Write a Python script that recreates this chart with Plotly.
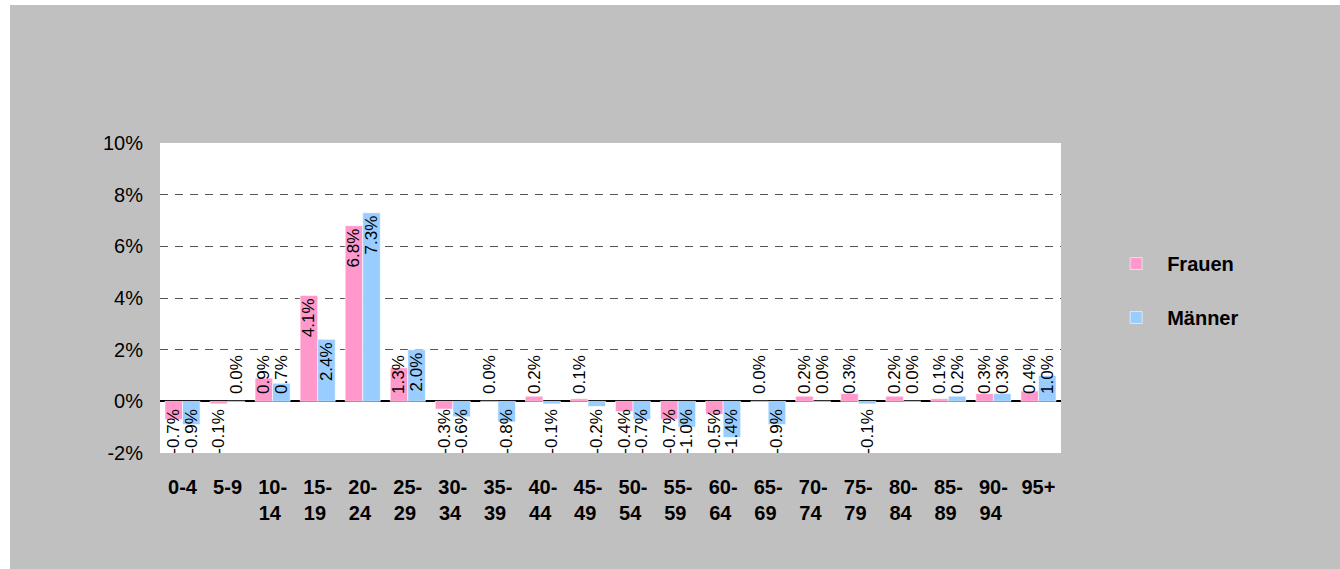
import plotly.graph_objects as go

# ---------------- data ----------------
age_groups = ["0-4", "5-9", "10-14", "15-19", "20-24", "25-29", "30-34", "35-39",
              "40-44", "45-49", "50-54", "55-59", "60-64", "65-69", "70-74", "75-79",
              "80-84", "85-89", "90-94", "95+"]
tick_labels = ["0-4", "5-9", "10-<br>14\u00a0", "15-<br>19\u00a0", "20-<br>24\u00a0",
               "25-<br>29\u00a0", "30-<br>34\u00a0", "35-<br>39\u00a0", "40-<br>44\u00a0",
               "45-<br>49\u00a0", "50-<br>54\u00a0", "55-<br>59\u00a0", "60-<br>64\u00a0",
               "65-<br>69\u00a0", "70-<br>74\u00a0", "75-<br>79\u00a0", "80-<br>84\u00a0",
               "85-<br>89\u00a0", "90-<br>94\u00a0", "95+"]
frauen = [-0.7, -0.1, 0.9, 4.1, 6.8, 1.3, -0.3, 0.0, 0.2, 0.1,
          -0.4, -0.7, -0.5, 0.0, 0.2, 0.3, 0.2, 0.1, 0.3, 0.4]
maenner = [-0.9, 0.0, 0.7, 2.4, 7.3, 2.0, -0.6, -0.8, -0.1, -0.2,
           -0.7, -1.0, -1.4, -0.9, 0.0, -0.1, 0.0, 0.2, 0.3, 1.0]
series_names = ["Frauen", "Männer"]
y_ticks = [-2, 0, 2, 4, 6, 8, 10]
y_tick_labels = ["-2%", "0%", "2%", "4%", "6%", "8%", "10%"]

# ---------------- style ----------------
PINK = "#FF99CC"
BLUE = "#99CCFF"
FONT = "Liberation Sans, Arial, sans-serif"
BAR_W = 0.39
LABEL_SIZE = 17
# positive labels: inside end of the bar, but never closer to the base than this
LABEL_MIN_POS = 1.9
# negative labels: hang just below the zero line
NEG_LABEL_SHIFT = 0.19
NEG_LABEL_LEN = 1.7

fig = go.Figure()

for name, vals, color, off, grp in [
    (series_names[0], frauen, PINK, -BAR_W, "f"),
    (series_names[1], maenner, BLUE, 0.0, "m"),
]:
    fig.add_trace(go.Bar(
        x=age_groups, y=vals, name=name, legendgroup=grp,
        marker=dict(color=color, line=dict(color="white", width=0.6)),
        width=BAR_W, offset=off,
        hovertemplate="%{x}: %{y:.1f}%<extra>" + name + "</extra>",
    ))
    pos = [(g, v) for g, v in zip(age_groups, vals) if v >= 0]
    neg = [(g, v) for g, v in zip(age_groups, vals) if v < 0]
    # labels for non-negative values
    fig.add_trace(go.Bar(
        x=[g for g, _ in pos], y=[max(v, LABEL_MIN_POS) for _, v in pos],
        showlegend=False, hoverinfo="skip",
        marker=dict(color="rgba(0,0,0,0)", line=dict(width=0)),
        width=BAR_W, offset=off,
        text=[f"{v:.1f}%" for _, v in pos],
        textposition="inside", insidetextanchor="end", textangle=-90,
        constraintext="none", cliponaxis=False,
        textfont=dict(family=FONT, size=LABEL_SIZE, color="black"),
    ))
    # labels for negative values
    fig.add_trace(go.Bar(
        x=[g for g, _ in neg], y=[-NEG_LABEL_LEN for _ in neg],
        base=-NEG_LABEL_SHIFT,
        showlegend=False, hoverinfo="skip",
        marker=dict(color="rgba(0,0,0,0)", line=dict(width=0)),
        width=BAR_W, offset=off,
        text=[f"{v:.1f}%" for _, v in neg],
        textposition="inside", insidetextanchor="start", textangle=-90,
        constraintext="none", cliponaxis=False,
        textfont=dict(family=FONT, size=LABEL_SIZE, color="black"),
    ))

fig.update_layout(
    width=1330, height=564, autosize=False,
    margin=dict(l=150, r=279, t=138, b=116, pad=0),
    paper_bgcolor="#C0C0C0", plot_bgcolor="white",
    barmode="overlay",
    font=dict(family=FONT, size=20, color="black"),
    xaxis=dict(
        type="category", tickmode="array", tickvals=age_groups, ticktext=tick_labels,
        range=[-0.5, len(age_groups) - 0.5], showgrid=False, showline=False, ticks="",
        tickfont=dict(family=FONT, size=20, color="black", weight="bold"),
        ticklabelstandoff=20,
    ),
    yaxis=dict(
        range=[-2, 10], tickmode="array", tickvals=y_ticks, ticktext=y_tick_labels,
        showgrid=True, gridcolor="#555555", gridwidth=1, griddash="8px,7px",
        zeroline=True, zerolinecolor="black", zerolinewidth=1.5,
        showline=False, ticks="", ticklabelstandoff=16,
        tickfont=dict(family=FONT, size=20, color="black"),
    ),
    legend=dict(
        x=1.049, xanchor="left", y=0.674, yanchor="top",
        bgcolor="rgba(0,0,0,0)", traceorder="grouped", tracegroupgap=25,
        font=dict(family=FONT, size=20, color="black", weight="bold"),
        itemwidth=52,
    ),
    showlegend=True,
)

fig.write_html(
    "out.html",
    post_script="document.body.style.margin='5px 0 0 10px';document.body.style.overflow='hidden';",
)
